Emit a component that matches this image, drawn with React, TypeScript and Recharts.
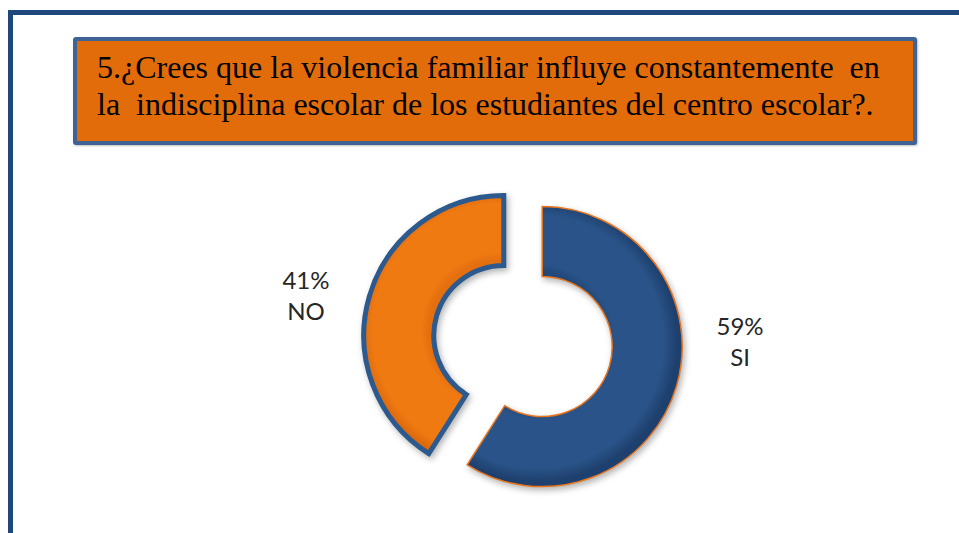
import { PieChart, Pie, Cell } from 'recharts';

const categories = ['SI', 'NO'];
const values = [59, 41];
const fills = ['#2A5489', '#F07A12'];
const strokes = ['#E8741C', '#2C5A8F'];
const strokeWidths = [1.5, 5];
const titleLines = [
  '5.¿Crees que la violencia familiar influye constantemente  en',
  'la  indisciplina escolar de los estudiantes del centro escolar?.',
];

const W = 959;
const H = 533;
const CX = 518;
const CY = 336;
const OUTER = 140;
const INNER = 70;
const EXPLODE = 20;
const LABEL_R = 226;

const data = categories.map((name, i) => ({ name, value: values[i] }));
const total = values.reduce((a, b) => a + b, 0);

// mid angle of each slice, recharts convention (deg, ccw from 3 o'clock), start at 12 o'clock going clockwise
const midAngles = values.map((v, i) => {
  const before = values.slice(0, i).reduce((a, b) => a + b, 0);
  return 90 - ((before + v / 2) / total) * 360;
});

const rad = (d: number) => (d * Math.PI) / 180;

function makeLabel(only: number) {
  return (props: any) => {
    const { index, midAngle, value, name } = props;
    if (index !== only) return null;
    const x = CX + 5 + Math.cos(rad(midAngle)) * LABEL_R;
    const y = CY - 17 - Math.sin(rad(midAngle)) * LABEL_R * 0.37;
    return (
      <text
        x={x}
        y={y}
        textAnchor="middle"
        fill="#262626"
        style={{ fontFamily: 'Lato, sans-serif', fontSize: 24 }}
      >
        <tspan x={x} dy={-7}>{`${value}%`}</tspan>
        <tspan x={x} dy={31}>{name}</tspan>
      </text>
    );
  };
}

export default function App() {
  return (
    <div style={{ position: 'absolute', left: 0, top: 0, width: W, height: H, background: '#fff', overflow: 'hidden' }}>
      {/* frame */}
      <div style={{ position: 'absolute', left: 8, top: 10, width: 5, height: H - 10, background: '#1F497D' }} />
      <div style={{ position: 'absolute', left: 8, top: 10, width: W - 8, height: 5, background: '#1F497D' }} />

      {/* title box */}
      <div
        style={{
          position: 'absolute',
          left: 73,
          top: 37,
          width: 844,
          height: 108,
          boxSizing: 'border-box',
          background: '#E36C0A',
          border: '4px solid #3F6394',
          borderRadius: 3,
          boxShadow: '1px 1px 2px rgba(0,0,0,0.25)',
        }}
      />
      {titleLines.map((line, i) => (
        <div
          key={i}
          style={{
            position: 'absolute',
            left: 97,
            top: 49 + i * 37,
            fontFamily: '"Liberation Serif", serif',
            fontSize: 32,
            lineHeight: '36px',
            color: '#000',
            whiteSpace: 'pre',
          }}
        >
          {line}
        </div>
      ))}

      <div style={{ position: 'absolute', left: 0, top: 0 }}>
        <PieChart width={W} height={H}>
          <defs>
            {values.map((_, k) => {
              const cx = CX + Math.cos(rad(midAngles[k])) * EXPLODE;
              const cy = CY - Math.sin(rad(midAngles[k])) * EXPLODE;
              return (
                <radialGradient key={k} id={`bevel${k}`} gradientUnits="userSpaceOnUse" cx={cx} cy={cy} r={OUTER}>
                  <stop offset={INNER / OUTER} stopColor={k === 0 ? '#23497A' : '#E46F0E'} />
                  <stop offset={0.56} stopColor={fills[k]} />
                  <stop offset={0.9} stopColor={fills[k]} />
                  <stop offset={1} stopColor={k === 0 ? '#1E406E' : '#D9650A'} />
                </radialGradient>
              );
            })}
          </defs>
          {values.map((_, k) => (
            <Pie
              key={k}
              data={data}
              dataKey="value"
              nameKey="name"
              cx={CX + Math.cos(rad(midAngles[k])) * EXPLODE}
              cy={CY - Math.sin(rad(midAngles[k])) * EXPLODE}
              innerRadius={INNER}
              outerRadius={OUTER}
              startAngle={90}
              endAngle={-270}
              isAnimationActive={false}
              label={makeLabel(k)}
              labelLine={false}
            >
              {data.map((d, i) => (
                <Cell
                  key={d.name}
                  fill={i === k ? `url(#bevel${k})` : 'none'}
                  stroke={i === k ? strokes[k] : 'none'}
                  strokeWidth={strokeWidths[k]}
                  style={i === k ? { filter: 'drop-shadow(2px 3px 3px rgba(0,0,0,0.3))' } : undefined}
                />
              ))}
            </Pie>
          ))}
        </PieChart>
      </div>
    </div>
  );
}
